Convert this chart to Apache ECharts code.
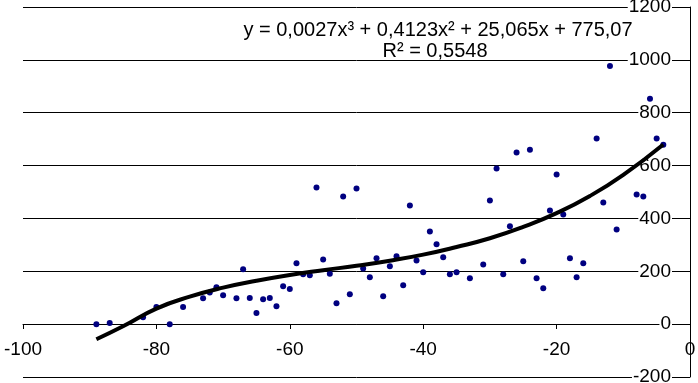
<!DOCTYPE html>
<html>
<head>
<meta charset="utf-8">
<script src="https://cdn.jsdelivr.net/npm/echarts@6/dist/echarts.min.js"></script>
<style>
	html, body { margin: 0; padding: 0; background: #fff; }
	#chart { width: 698px; height: 383px; }
</style>
</head>
<body>
<div id="chart"></div>
<script>
	// measured points (x, y)
	var pointsX = [-89, -87, -82, -80, -78, -76, -73, -72, -71, -70, -68, -67, -66, -65, -64, -63, -62, -61, -60, -59,
		-58, -57, -56, -55, -54, -53, -52, -51, -50, -49, -48, -47, -46, -45, -44, -43, -42, -41, -40, -39,
		-38, -37, -36, -35, -33, -31, -30, -29, -28, -27, -26, -25, -24, -23, -22, -21, -20, -19, -18, -17,
		-16, -14, -13, -12, -11, -8, -7, -6, -5, -4];
	var pointsY = [0, 4, 26, 65, 0, 65, 98, 120, 140, 109, 98, 208, 99, 42, 94, 99, 68, 143, 133, 230,
		189, 185, 517, 245, 191, 79, 483, 113, 513, 211, 177, 249, 106, 219, 257, 147, 449, 241, 196, 351,
		302, 253, 189, 196, 174, 226, 468, 589, 189, 370, 649, 238, 660, 174, 136, 430, 566, 415, 249, 177,
		230, 702, 460, 977, 358, 491, 483, 853, 702, 679];

	// trend curve
	var trendX = [-89, -85, -80, -75, -70, -65, -60, -55, -50, -45, -40, -35, -30, -25, -20, -15, -10, -4];
	var trendY = [-57, -8, 59, 104, 138, 164, 186, 204, 221, 240, 263, 292, 325, 368, 420, 485, 565, 680];

	var equationText = 'y = 0,0027x³ + 0,4123x² + 25,065x + 775,07';
	var r2Text = 'R² = 0,5548';

	var font = 'Liberation Sans, Arial, sans-serif';

	var chart = echarts.init(document.getElementById('chart'));
	chart.setOption({
		animation: false,
		backgroundColor: '#fff',
		grid: {
			left: 23,
			right: 8,
			top: 7,
			bottom: 6,
			outerBoundsMode: 'none',
			containLabel: false
		},
		xAxis: {
			type: 'value',
			min: -100,
			max: 0,
			interval: 20,
			position: 'bottom',
			offset: -53,
			axisLine: { onZero: false, lineStyle: { color: '#000', width: 1 } },
			axisTick: { show: true, length: 5, lineStyle: { color: '#000' } },
			axisLabel: {
				color: '#000',
				fontSize: 19,
				fontFamily: font,
				margin: 16,
				showMinLabel: true,
				showMaxLabel: true,
				formatter: function (v) { return String(v); }
			},
			splitLine: { show: false }
		},
		yAxis: {
			type: 'value',
			position: 'right',
			min: -200,
			max: 1200,
			interval: 200,
			axisLine: { show: true, lineStyle: { color: '#000', width: 1 } },
			axisTick: { show: false },
			axisLabel: {
				inside: true,
				margin: 18,
				color: '#000',
				fontSize: 19,
				fontFamily: font,
				backgroundColor: '#fff',
				padding: [0, 1, 0, 1],
				showMinLabel: true,
				showMaxLabel: true,
				formatter: function (v) { return String(v); }
			},
			splitLine: { show: true, lineStyle: { color: '#000', width: 1 } }
		},
		graphic: [
			{
				type: 'text',
				x: 438,
				y: 30,
				style: {
					text: equationText,
					textAlign: 'center',
					textVerticalAlign: 'middle',
					fill: '#000',
					font: '20px ' + font
				},
				z: 10
			},
			{
				type: 'text',
				x: 435,
				y: 51,
				style: {
					text: r2Text,
					textAlign: 'center',
					textVerticalAlign: 'middle',
					fill: '#000',
					font: '20px ' + font
				},
				z: 10
			}
		],
		series: [
			{
				type: 'scatter',
				symbolSize: 6,
				itemStyle: { color: '#000080', opacity: 1 },
				data: pointsX.map(function (x, i) { return [x, pointsY[i]]; }),
				z: 3
			},
			{
				type: 'line',
				smooth: true,
				showSymbol: false,
				lineStyle: { color: '#000', width: 4 },
				data: trendX.map(function (x, i) { return [x, trendY[i]]; }),
				z: 4
			}
		]
	});
</script>
</body>
</html>
